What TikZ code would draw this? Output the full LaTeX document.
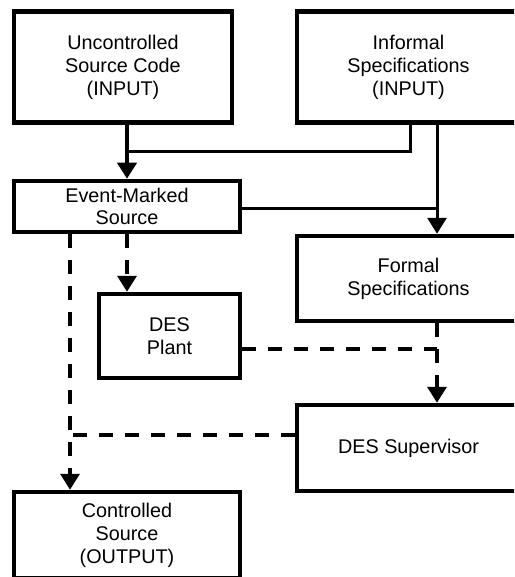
\documentclass[tikz,border=0pt]{standalone}
\usepackage{fontspec}
\setmainfont{Liberation Sans}
\usetikzlibrary{arrows.meta}
\begin{document}
\begin{tikzpicture}[x=1pt,y=-1pt,
  box/.style={draw=black,line width=4.5pt,fill=white,inner sep=0pt,align=center,
    font=\fontsize{19.8}{23}\selectfont},
  flow/.style={line width=3pt},
  mainflow/.style={line width=4pt},
  tip/.style={-{Triangle[width=19pt,length=16pt]}},
  dashflow/.style={line width=3.5pt,dash pattern=on 14pt off 12pt}]
\useasboundingbox (0,0) rectangle (514,577);
\clip (0,0) rectangle (514,577);
\fill[white] (0,0) rectangle (514,577);

% helper positions for the connector lanes
\coordinate (xl) at (70,0);
\coordinate (xm) at (410,0);
\coordinate (xr) at (437,0);
\coordinate (j1) at (127,152);
\coordinate (yh) at (0,435);
\coordinate (yp) at (0,349);
\coordinate (ye) at (0,208);

% boxes
\node[box,minimum width=218pt,minimum height=111pt] (b1) at (123,67)
  {Uncontrolled\\Source Code\\(INPUT)};
\node[box,minimum width=223pt,minimum height=111pt] (b2) at (408.5,67)
  {Informal\\Specifications\\(INPUT)};
\node[box,minimum width=226pt,minimum height=51pt,font=\fontsize{19.8}{21.5}\selectfont] (b3) at (127,206.5)
  {Event-Marked\\Source};
\node[box,minimum width=223pt,minimum height=85pt] (b4) at (408.5,278.5)
  {Formal\\Specifications};
\node[box,minimum width=141pt,minimum height=84pt] (b5) at (169.5,336)
  {DES\\Plant};
\node[box,minimum width=223pt,minimum height=86pt] (b6) at (408.5,448)
  {DES Supervisor};
\node[box,minimum width=226pt,minimum height=86pt] (b7) at (127,535)
  {Controlled\\Source\\(OUTPUT)};

% solid connectors
\draw[mainflow,tip] (b1.south -| b3.north) -- (b3.north);
\draw[flow] (b2.south -| xm) |- (j1);
\draw[flow,tip] (b2.south -| xr) -- (b4.north -| xr);
\draw[flow] (b3.east |- ye) -- (xr |- ye);

% dashed connectors
\draw[dashflow,tip] (b3.south) -- (b3.south |- b5.north);
\draw[dashflow,tip] (b3.south -| xl) -- (b7.north -| xl);
\draw[dashflow] (b6.west |- yh) -- (xl |- yh);
\draw[dashflow] (b5.east |- yp) -- (xr |- yp);
\draw[dashflow,tip] (b4.south -| xr) -- (b6.north -| xr);
\end{tikzpicture}
\end{document}
